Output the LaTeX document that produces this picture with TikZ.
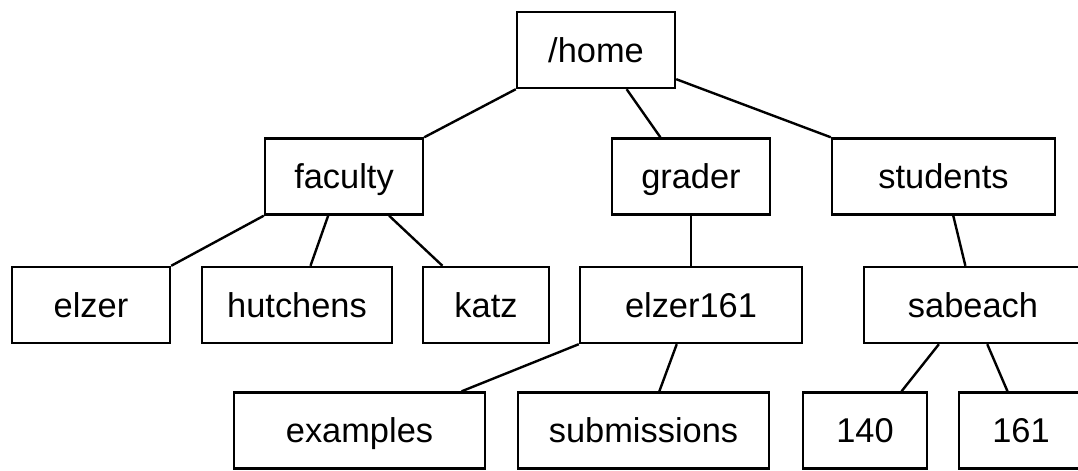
\documentclass[tikz,border=0pt]{standalone}
\usepackage{fontspec}
\setmainfont{Liberation Sans}
\usepackage{tikz}

\begin{document}
\begin{tikzpicture}[x=0.5pt,y=0.5pt,
  dir/.style={draw,line width=1.2pt,inner sep=0pt,minimum height=38pt,text height=14pt,text depth=2pt,font=\fontsize{17.2}{20}\selectfont},
  link/.style={line width=1.2pt}]
\useasboundingbox (0,0) rectangle (1078,-471);
\clip (0,0) rectangle (1078,-471);
% top level
\node[dir,minimum width=79pt] (home) at (596,-50) {/home};
% second level
\node[dir,minimum width=79pt] (faculty) at (344,-176.5) {faculty};
\node[dir,minimum width=79pt] (grader) at (691,-176.5) {grader};
\node[dir,minimum width=111.5pt] (students) at (943.5,-176.5) {students};
% third level
\node[dir,minimum width=79pt] (elzer) at (91,-305) {elzer};
\node[dir,minimum width=95pt] (hutchens) at (297,-305) {hutchens};
\node[dir,minimum width=63pt] (katz) at (486,-305) {katz};
\node[dir,minimum width=111pt] (elzer161) at (691,-305) {elzer161};
\node[dir,minimum width=109pt] (sabeach) at (973,-305) {sabeach};
% fourth level
\node[dir,minimum width=125.5pt] (examples) at (359.5,-430.5) {examples};
\node[dir,minimum width=125.5pt] (submissions) at (643.5,-430.5) {submissions};
\node[dir,minimum width=62pt] (c140) at (865,-430.5) {140};
\node[dir,minimum width=62pt] (c161) at (1021,-430.5) {161};
% links
\draw[link] (home.south west) -- (faculty.north east);
\draw[link] (home.-52.7) -- (grader.128.8);
\draw[link] (home.-20.8) -- (students.north west);
\draw[link] (faculty.south west) -- (elzer.north east);
\draw[link] (faculty.-112.6) -- (hutchens.71.6);
\draw[link] (faculty.-41.8) -- (katz.138.4);
\draw[link] (grader.south) -- (elzer161.north);
\draw[link] (students.-76.1) -- (sabeach.101.6);
\draw[link] (elzer161.south west) -- (examples.21);
\draw[link] (elzer161.-110) -- (submissions.68.9);
\draw[link] (sabeach.-131.4) -- (c140.47);
\draw[link] (sabeach.-70) -- (c161.109.1);
\end{tikzpicture}
\end{document}
